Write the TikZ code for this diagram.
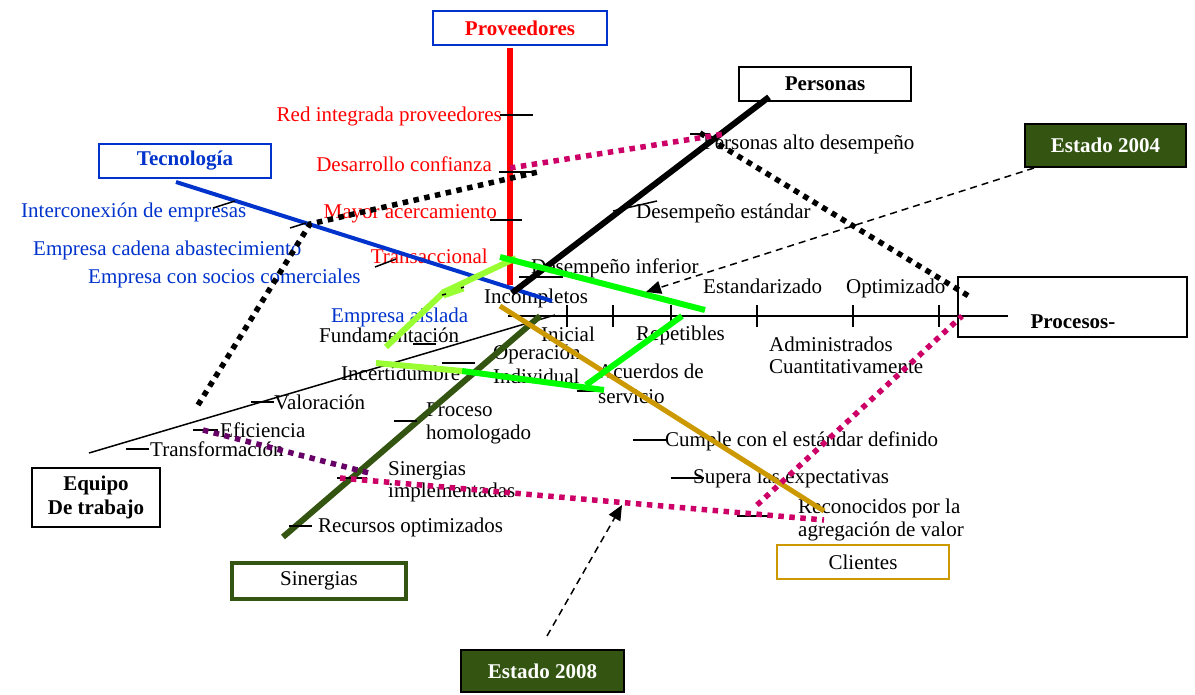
\documentclass[tikz,border=0pt]{standalone}
\usepackage{fontspec}
\setmainfont{Liberation Serif}
\usetikzlibrary{arrows.meta}
\definecolor{provred}{RGB}{255,0,0}
\definecolor{tecblue}{RGB}{0,51,204}
\definecolor{sinergreen}{RGB}{51,85,17}
\definecolor{cligold}{RGB}{204,153,0}
\definecolor{limegreen}{RGB}{153,255,51}
\definecolor{brightgreen}{RGB}{0,255,0}
\definecolor{rosa}{RGB}{204,0,102}
\definecolor{morado}{RGB}{102,0,102}

\tikzset{
  every node/.style={inner sep=0pt, font=\fontsize{21}{24}\selectfont},
  lbl/.style={anchor=base west},
  lblr/.style={anchor=base east},
  catbox/.style={draw, line width=2pt, font=\fontsize{21}{24}\selectfont\bfseries},
  statebox/.style={draw=black, line width=2pt, fill=sinergreen, text=white,
    font=\fontsize{21}{24}\selectfont\bfseries},
  bone/.style={line width=6pt},
  tick/.style={line width=1.5pt},
  dots/.style={line width=5.5pt, dash pattern=on 5.5pt off 5.5pt},
  pointer/.style={line width=1.5pt, dash pattern=on 7pt off 5pt,
    -{Triangle[length=15pt,width=13pt]}},
}

\begin{document}
\begin{tikzpicture}[x=1pt,y=-1pt]
\useasboundingbox (0,0) rectangle (1195,694);

% ---- category boxes ----
\node[catbox, draw=tecblue, text=provred, minimum width=174, minimum height=34] (prov) at (520,28) {Proveedores};
\node[catbox, minimum width=172, minimum height=34] (pers) at (825,84) {Personas};
\node[catbox, draw=tecblue, text=tecblue, minimum width=172, minimum height=34] (tec) at (185,161) {Tecnología};
\node[statebox, minimum width=161, minimum height=43] (e04) at (1105.5,145.5) {Estado 2004};
\node[draw, line width=2pt, minimum width=229, minimum height=60] (proc) at (1072.5,307) {};
\node[font=\fontsize{21}{24}\selectfont\bfseries, anchor=base] (proct) at (1073,328) {Procesos-};
\node[catbox, minimum width=128, minimum height=59, align=center] (equipo) at (96,497.5) {Equipo\\De trabajo};
\node[draw=sinergreen, line width=3.5pt, minimum width=174, minimum height=36] (sin) at (319,581) {Sinergias};
\node[draw=cligold, line width=2.5pt, minimum width=172, minimum height=34] (cli) at (863,562) {Clientes};
\node[statebox, minimum width=163, minimum height=42] (e08) at (542.5,671) {Estado 2008};

% ---- labels: proveedores ----
\begin{scope}[every node/.append style={text=provred}]
\node[lblr] (p1) at (502,121) {Red integrada proveedores};
\node[lblr] (p2) at (492,171) {Desarrollo confianza};
\node[lblr] (p3) at (497,218) {Mayor acercamiento};
\node[lblr] (p4) at (488,263) {Transaccional};
\end{scope}

% ---- labels: tecnologia ----
\begin{scope}[every node/.append style={text=tecblue}]
\node[lbl] (t1) at (21,217) {Interconexión de empresas};
\node[lbl] (t2) at (33,255) {Empresa cadena abastecimiento};
\node[lbl] (t3) at (88,283) {Empresa con socios comerciales};
\node[lbl] (t4) at (331,322) {Empresa aislada};
\end{scope}

% ---- labels: personas ----
\node[lbl] (h1) at (703,149) {Personas alto desempeño};
\node[lbl] (h2) at (636,218) {Desempeño estándar};
\node[lbl] (h3) at (531,273) {Desempeño inferior};

% ---- labels: procesos ----
\node[lbl] (m1) at (484,303) {Incompletos};
\node[lbl] (m2) at (703,293) {Estandarizado};
\node[lbl] (m3) at (846,293) {Optimizado};
\node[lbl] (m4) at (541,341) {Inicial};
\node[lbl] (m5) at (636,340) {Repetibles};
\node[lbl] (m6a) at (769,351) {Administrados};
\node[lbl] (m6b) at (769,373) {Cuantitativamente};

% ---- labels: equipo de trabajo ----
\node[lbl] (q1) at (319,342) {Fundamentación};
\node[lbl] (q2) at (341,380) {Incertidumbre};
\node[lbl] (q3) at (274,409) {Valoración};
\node[lbl] (q4) at (220,437) {Eficiencia};
\node[lbl] (q5) at (150,456) {Transformación};

% ---- labels: sinergias ----
\node[lbl] (s1a) at (493,359) {Operación};
\node[lbl] (s1b) at (493,383) {Individual};
\node[lbl] (s2a) at (426,416) {Proceso};
\node[lbl] (s2b) at (426,439) {homologado};
\node[lbl] (s3a) at (388,475) {Sinergias};
\node[lbl] (s3b) at (388,497) {implementadas};
\node[lbl] (s4) at (318,532) {Recursos optimizados};

% ---- labels: clientes ----
\node[lbl] (c1a) at (598,378) {Acuerdos de};
\node[lbl] (c1b) at (598,403) {servicio};
\node[lbl] (c2) at (665,446) {Cumple con el estándar definido};
\node[lbl] (c3) at (693,483) {Supera las expectativas};
\node[lbl] (c4a) at (798,513) {Reconocidos por la};
\node[lbl] (c4b) at (798,536) {agregación de valor};

% ---- bone end points ----
\coordinate (redtop) at (510,48);   \coordinate (redbot) at (510,285);
\coordinate (bluetop) at (176,182); \coordinate (bluebot) at (552,301);
\coordinate (blktop) at (769,97);   \coordinate (blkbot) at (512,293);
\coordinate (axl) at (508,316);     \coordinate (axr) at (1008,316);
\coordinate (eqa) at (89,453);      \coordinate (eqb) at (555,315);
\coordinate (sga) at (283,537);     \coordinate (sgb) at (540,316);
\coordinate (cla) at (500,306);     \coordinate (clb) at (824,511);

% ---- bones ----
\draw[line width=1.5pt] (eqa) -- (eqb);
\draw[line width=2pt] (axl) -- (axr);
\draw[bone, provred] (redtop) -- (redbot);
\draw[line width=4pt, tecblue] (bluetop) -- (bluebot);
\draw[bone, sinergreen] (sga) -- (sgb);
\draw[line width=5pt, cligold] (cla) -- (clb);
\draw[bone, black] (blktop) -- (blkbot);

% ---- maturity ticks on the process axis ----
\foreach \tx in {567,613,671,757,853,939}
  \draw[tick] (\tx,305) -- (\tx,327);

% ---- ticks on the other bones ----
\draw[tick] (500,115) -- (533,115);
\draw[tick] (499,172) -- (534,172);
\draw[tick] (490,220) -- (522,220);
\draw[tick] (500,258) -- (510,258);
\draw[tick] (213,208) -- (235,201);
\draw[tick] (290,228) -- (306,223);
\draw[tick] (375,267) -- (396,259);
\draw[tick] (690,134) -- (710,134);
\draw[tick] (613,211) -- (657,201);
\draw[tick] (519,263) -- (534,263);
\draw[tick] (519,277) -- (563,277);
\draw[tick] (413,344) -- (436,344);
\draw[tick] (251,402) -- (274,402);
\draw[tick] (193,430) -- (218,430);
\draw[tick] (126,449) -- (149,449);
\draw[tick] (442,363) -- (475,363);
\draw[tick] (394,421) -- (417,421);
\draw[tick] (337,478) -- (367,478);
\draw[tick] (289,526) -- (312,526);
\draw[tick] (577,391) -- (600,391);
\draw[tick] (633,440) -- (666,440);
\draw[tick] (671,478) -- (704,478);
\draw[tick] (737,516) -- (770,516);

% ---- state outline ----
\coordinate (g1) at (386,347); \coordinate (g2) at (444,292); \coordinate (g3) at (516,258);
\coordinate (g4) at (500,257); \coordinate (g5) at (705,310);
\coordinate (g6) at (682,316); \coordinate (g7) at (586,385);
\coordinate (g8) at (376,363); \coordinate (g9) at (462,371); \coordinate (g10) at (604,390);
\draw[line width=6pt, limegreen] (g1) -- (g2) -- (g3);
\draw[line width=9pt, limegreen] (443,294) -- (463,287);
\draw[tick] (442,295) -- (446,294) (461,288) -- (464,287);
\draw[line width=6pt, brightgreen] (g4) -- (g5);
\draw[line width=6pt, brightgreen] (g6) -- (g7);
\draw[line width=6pt, brightgreen] (g9) -- (g10);
\draw[line width=6pt, limegreen] (g8) -- (g9);

% ---- dotted links ----
\coordinate (d1) at (198,405); \coordinate (d2) at (310,224); \coordinate (d3) at (538,172);
\coordinate (d4) at (700,133); \coordinate (d5) at (972,298);
\draw[dots, black] (d1) -- (d2) -- (d3);
\draw[dots, black] (d4) -- (d5);
\coordinate (r1) at (510,168); \coordinate (r2) at (724,134);
\coordinate (r3) at (340,478); \coordinate (r4) at (824,520);
\coordinate (r5) at (757,505); \coordinate (r6) at (962,316);
\draw[dots, rosa] (r1) -- (r2);
\draw[dots, rosa] (r3) -- (r4);
\draw[dots, rosa] (r5) -- (r6);
\coordinate (v1) at (203,430); \coordinate (v2) at (373,474);
\draw[dots, morado] (v1) -- (v2);

% ---- state pointers ----
\coordinate (a04) at (646,292);
\coordinate (a08) at (622,505);
\coordinate (s04) at (1034,168);
\coordinate (s08) at (547,636);
\draw[pointer] (s04) -- (a04);
\draw[pointer] (s08) -- (a08);
\end{tikzpicture}
\end{document}
